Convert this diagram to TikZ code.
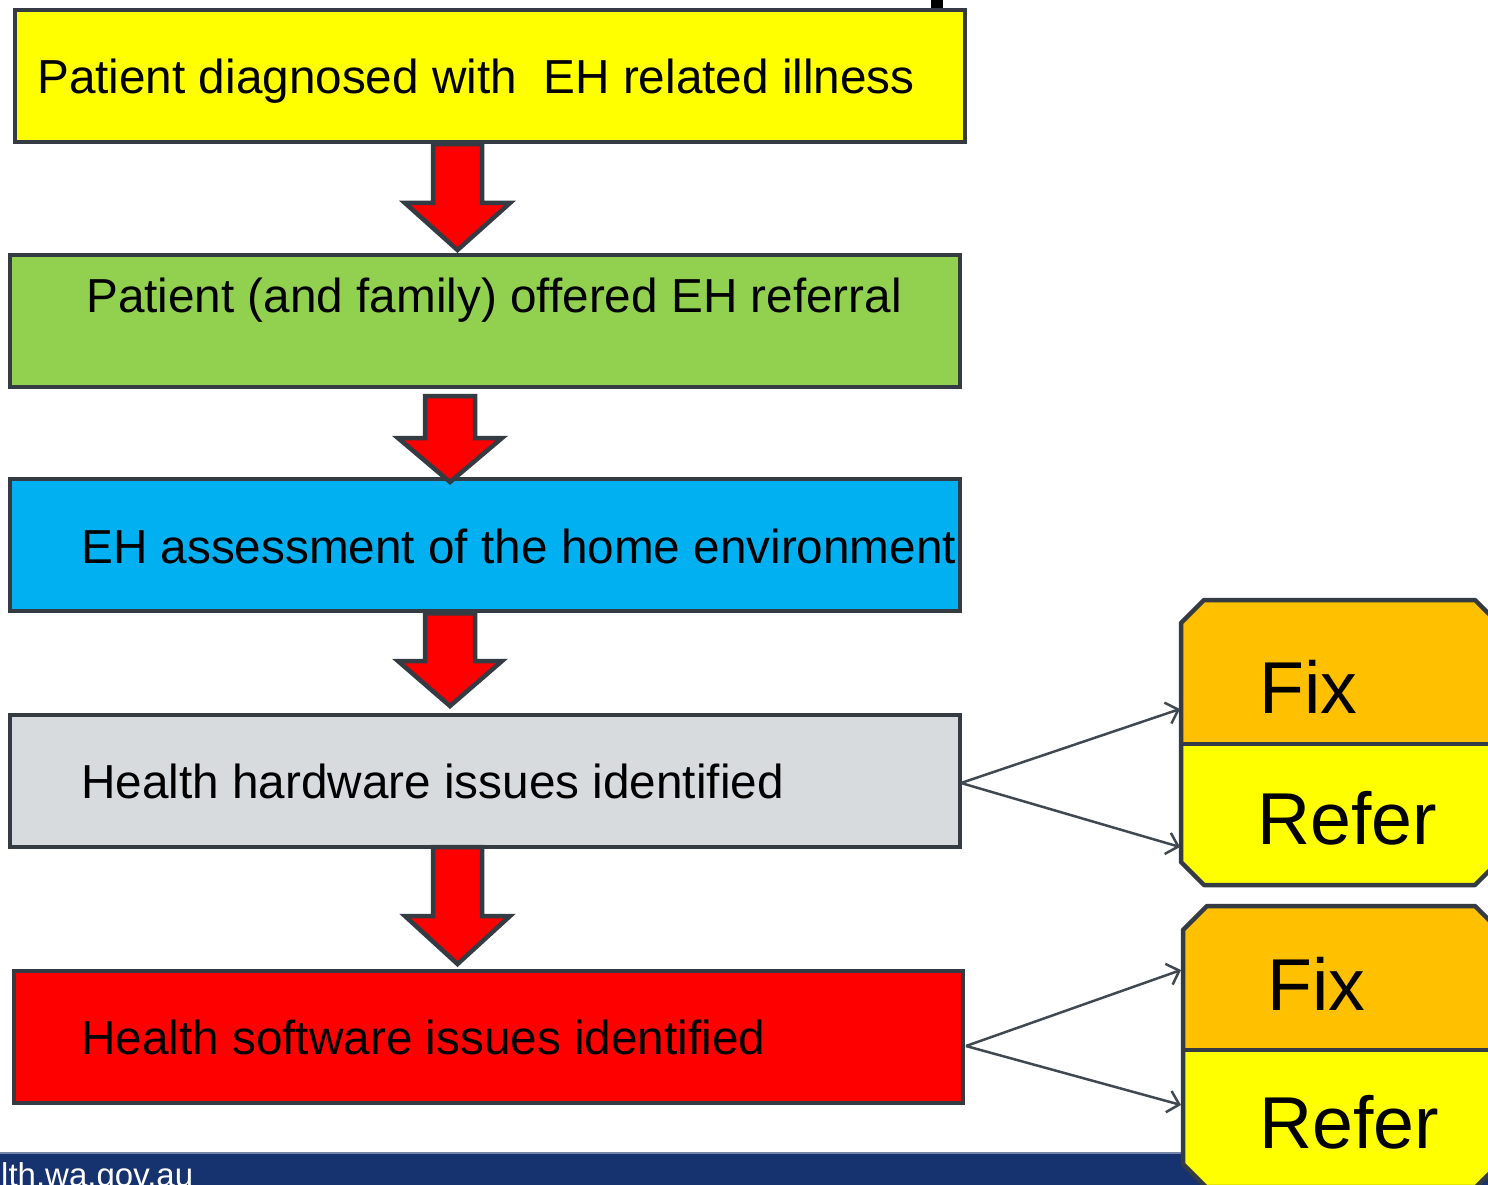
\documentclass[tikz,border=0pt]{standalone}
\usepackage{fontspec}
\setmainfont{Liberation Sans}
\usetikzlibrary{arrows.meta}
\definecolor{bord}{HTML}{353B42}
\definecolor{cyellow}{HTML}{FFFF00}
\definecolor{cgreen}{HTML}{92D050}
\definecolor{cblue}{HTML}{00B0F0}
\definecolor{cgray}{HTML}{D8DBDE}
\definecolor{cred}{HTML}{FF0000}
\definecolor{corange}{HTML}{FFC000}
\definecolor{cband}{HTML}{17336F}
\definecolor{cline}{HTML}{404952}
\begin{document}
\begin{tikzpicture}[x=1pt,y=-1pt,
  boxstyle/.style={draw=bord, line width=4.5pt, rectangle, inner sep=0pt,
    minimum width=950pt, minimum height=132pt},
  boxtext/.style={anchor=base west, inner sep=0pt, font=\fontsize{47.7}{57}\selectfont},
  bigtext/.style={anchor=base west, inner sep=0pt, font=\fontsize{73.5}{88}\selectfont},
  blockarrow/.style={fill=cred, draw=bord, line width=4.5pt, line join=miter},
  thinarrow/.style={draw=cline, line width=2.5pt, -{Straight Barb[length=11pt,width=22pt,line width=2.5pt]}},
  octo/.style={draw=bord, line width=4.5pt, line join=round}]
\useasboundingbox (0,0) rectangle (1488,1185);
\clip (0,0) rectangle (1488,1185);
\fill[white] (0,0) rectangle (1488,1185);

% footer band
\fill[cband] (0,1153) rectangle (1488,1185);
\draw[color=cband!60!white, line width=1.5pt] (0,1153) -- (1488,1153);
\node[anchor=base west, inner sep=0pt, text=white, font=\fontsize{33}{40}\selectfont] (url) at (1,1186) {lth.wa.gov.au};

% top black mark
\fill[black] (931,0) rectangle (943,10);

% boxes
\node[boxstyle, fill=cyellow] (b1) at (490,76) {};
\node[boxstyle, fill=cgreen] (b2) at (485,321) {};
\node[boxstyle, fill=cblue] (b3) at (485,545) {};
\node[boxstyle, fill=cgray] (b4) at (485,781) {};
\node[boxstyle, fill=cred, minimum width=949pt] (b5) at (488.5,1037) {};

\node[boxtext] (t1) at (37,93.5) {Patient diagnosed with\ \ EH related illness};
\node[boxtext] (t2) at (86,312.5) {Patient (and family) offered EH referral};
\node[boxtext] (t3) at (81,563) {EH assessment of the home environment};
\node[boxtext] (t4) at (81,798.5) {Health hardware issues identified};
\node[boxtext] (t5) at (81,1054.5) {Health software issues identified};

% block arrows
\draw[blockarrow] (b1.south -| 433,0) -- (433,203) -- (405,203) -- (457.5,250) -- (510,203) -- (482,203) -- (b1.south -| 482,0) -- cycle;
\draw[blockarrow] (425,396) -- (425,438) -- (398,438) -- (450,482) -- (502,438) -- (475,438) -- (475,396) -- cycle;
\draw[blockarrow] (b3.south -| 425,0) -- (425,661) -- (398,661) -- (450,706) -- (502,661) -- (475,661) -- (b3.south -| 475,0) -- cycle;
\draw[blockarrow] (433,847) -- (433,916) -- (405,916) -- (457.5,964) -- (510,916) -- (482,916) -- (482,847) -- cycle;

% octagon group 1
\fill[corange] (1181,623) -- (1204,600) -- (1475,600) -- (1498,623) -- (1498,744) -- (1181,744) -- cycle;
\fill[cyellow] (1181,744) -- (1498,744) -- (1498,862) -- (1475,885) -- (1204,885) -- (1181,862) -- cycle;
\draw[octo] (1181,623) -- (1204,600) -- (1475,600) -- (1498,623) -- (1498,862) -- (1475,885) -- (1204,885) -- (1181,862) -- cycle;
\draw[octo] (1181,744) -- (1498,744);
\node[bigtext] (fix1) at (1259,713) {Fix};
\node[bigtext] (ref1) at (1257,844) {Refer};

% octagon group 2
\fill[corange] (1183,930) -- (1207,906) -- (1475,906) -- (1499,930) -- (1499,1050) -- (1183,1050) -- cycle;
\fill[cyellow] (1183,1050) -- (1499,1050) -- (1499,1164) -- (1476,1187) -- (1206,1187) -- (1183,1164) -- cycle;
\draw[octo] (1183,930) -- (1207,906) -- (1475,906) -- (1499,930) -- (1499,1164) -- (1476,1187) -- (1206,1187) -- (1183,1164) -- cycle;
\draw[octo] (1183,1050) -- (1499,1050);
\node[bigtext] (fix2) at (1267,1010) {Fix};
\node[bigtext] (ref2) at (1259,1148) {Refer};

% connectors
\coordinate (hwout) at (961,783);
\coordinate (swout) at (966,1046);
\coordinate (g1fix) at (1180,709);
\coordinate (g1ref) at (1180,847);
\coordinate (g2fix) at (1181,970);
\coordinate (g2ref) at (1181,1105);
\draw[thinarrow] (hwout) -- (g1fix);
\draw[thinarrow] (hwout) -- (g1ref);
\draw[thinarrow] (swout) -- (g2fix);
\draw[thinarrow] (swout) -- (g2ref);
\end{tikzpicture}
\end{document}
